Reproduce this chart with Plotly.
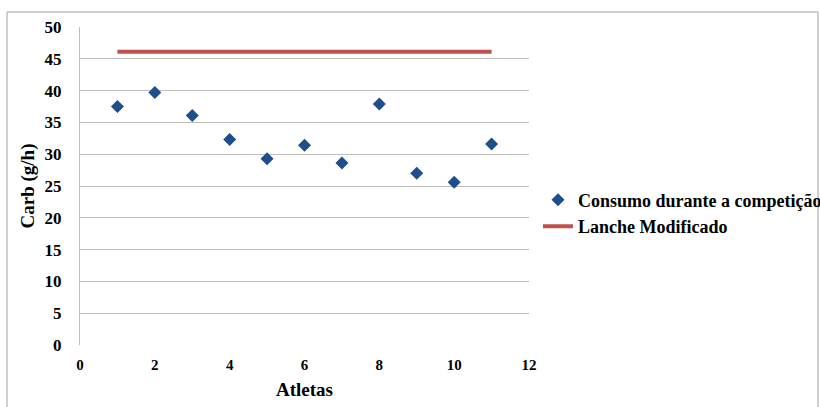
import plotly.graph_objects as go

# Carbohydrate intake per athlete during competition (g/h)
athletes = [1, 2, 3, 4, 5, 6, 7, 8, 9, 10, 11]
consumo = [37.5, 39.7, 36.1, 32.3, 29.3, 31.4, 28.6, 37.9, 27.0, 25.6, 31.6]

# Reference level provided by the modified snack
lanche_x = [1, 11]
lanche_y = [46.1, 46.1]

x_ticks = [0, 2, 4, 6, 8, 10, 12]
y_ticks = [0, 5, 10, 15, 20, 25, 30, 35, 40, 45, 50]

serif = "Liberation Serif"

fig = go.Figure()
fig.add_trace(go.Scatter(
    x=athletes, y=consumo, mode="markers",
    name="Consumo durante a competição",
    marker=dict(symbol="diamond", size=10, color="#1F4E8C"),
))
fig.add_trace(go.Scatter(
    x=lanche_x, y=lanche_y, mode="lines",
    name="Lanche Modificado",
    line=dict(color="#C0504D", width=4),
))

fig.update_layout(
    width=820, height=407,
    margin=dict(l=80, r=291, t=27, b=62, autoexpand=False),
    paper_bgcolor="white", plot_bgcolor="white",
    font=dict(family=serif, color="black", size=15),
    xaxis=dict(
        range=[0, 12], tickvals=x_ticks, showgrid=False,
        zeroline=False, showline=False, ticks="", ticklabelstandoff=9,
        tickfont=dict(family=serif, size=15, weight="bold"),
        title=dict(text="<b>Atletas</b>", font=dict(family=serif, size=19), standoff=10),
    ),
    yaxis=dict(
        range=[0, 50], tickvals=y_ticks, showgrid=True,
        gridcolor="#BEBEBE", gridwidth=1,
        zeroline=False, showline=True, linecolor="#BEBEBE", linewidth=1,
        ticks="", ticklabelstandoff=14,
        tickfont=dict(family=serif, size=17, weight="bold"),
        title=dict(text="<b>Carb (g/h)</b>", font=dict(family=serif, size=19), standoff=4),
    ),
    legend=dict(
        x=1.02, y=0.415, xanchor="left", yanchor="middle",
        bgcolor="rgba(0,0,0,0)", itemwidth=30, tracegroupgap=0,
        font=dict(family=serif, size=18, weight="bold"),
    ),
    shapes=[dict(
        type="rect", xref="paper", yref="paper",
        x0=-73 / 449, x1=738 / 449, y0=-70 / 318, y1=333 / 318,
        line=dict(color="#A0A0A0", width=1), layer="below",
    )],
)

fig.write_html("out.html")
